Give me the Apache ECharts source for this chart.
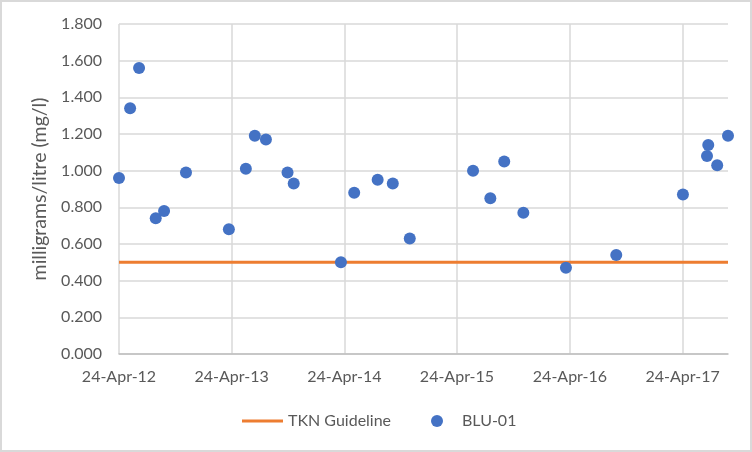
<!DOCTYPE html>
<html>
<head>
<meta charset="utf-8">
<script src="https://cdn.jsdelivr.net/npm/echarts@6.0.0/dist/echarts.min.js"></script>
<style>
    html, body { margin: 0; padding: 0; background: #fff; }
    #chart { width: 752px; height: 452px; }
</style>
</head>
<body>
<div id="chart"></div>
<script>
// sample dates and TKN results for BLU-01
var sampleDates = ['2012-04-24', '2012-05-30', '2012-06-28', '2012-08-21', '2012-09-17', '2012-11-27',
    '2013-04-15', '2013-06-09', '2013-07-08', '2013-08-13', '2013-10-22', '2013-11-11',
    '2014-04-13', '2014-05-26', '2014-08-10', '2014-09-28', '2014-11-22',
    '2015-06-15', '2015-08-10', '2015-09-24', '2015-11-25',
    '2016-04-11', '2016-09-21',
    '2017-04-25', '2017-07-12', '2017-07-16', '2017-08-14', '2017-09-18'];
var tknValues = [0.96, 1.34, 1.56, 0.74, 0.78, 0.99,
    0.68, 1.01, 1.19, 1.17, 0.99, 0.93,
    0.50, 0.88, 0.95, 0.93, 0.63,
    1.00, 0.85, 1.05, 0.77,
    0.47, 0.54,
    0.87, 1.08, 1.14, 1.03, 1.19];
var guidelineValue = 0.5;
var tickDates = ['2012-04-24', '2013-04-24', '2014-04-24', '2015-04-24', '2016-04-24', '2017-04-24'];
var months = ['Jan', 'Feb', 'Mar', 'Apr', 'May', 'Jun', 'Jul', 'Aug', 'Sep', 'Oct', 'Nov', 'Dec'];

var DAY = 86400000;
var start = Date.parse(sampleDates[0]);
function toDay(s) { return Math.round((Date.parse(s) - start) / DAY); }
function fmtDay(d) {
    var t = new Date(start + Math.round(d) * DAY);
    return t.getUTCDate() + '-' + months[t.getUTCMonth()] + '-' + String(t.getUTCFullYear()).slice(2);
}

var pts = sampleDates.map(function (s, i) { return [toDay(s), tknValues[i]]; });
var lastDay = toDay(sampleDates[sampleDates.length - 1]);
var tickDays = tickDates.map(toDay);

var font = 'Lato, "Open Sans", sans-serif';
var textColor = '#595959';

var chart = echarts.init(document.getElementById('chart'));
chart.setOption({
    animation: false,
    graphic: [{
        type: 'rect',
        shape: { x: 1, y: 1, width: 750, height: 450 },
        style: { fill: 'none', stroke: '#d9d9d9', lineWidth: 2 },
        silent: true
    }],
    grid: { left: 119, right: 24, top: 24, bottom: 98 },
    xAxis: {
        type: 'value',
        min: 0,
        max: lastDay,
        axisLine: { show: true, lineStyle: { color: '#bfbfbf', width: 1.5 } },
        axisTick: { show: false, customValues: tickDays },
        axisLabel: {
            customValues: tickDays,
            formatter: fmtDay,
            color: textColor, fontSize: 16, fontFamily: font, margin: 15
        },
        splitLine: { show: true, lineStyle: { color: '#d9d9d9', width: 1.5 } }
    },
    yAxis: {
        type: 'value',
        min: 0,
        max: 1.8,
        interval: 0.2,
        name: 'milligrams/litre (mg/l)',
        nameLocation: 'middle',
        nameGap: 67,
        nameTextStyle: { color: textColor, fontSize: 19.5, fontFamily: font },
        axisLine: { show: false },
        axisTick: { show: false },
        axisLabel: {
            formatter: function (v) { return v.toFixed(3); },
            color: textColor, fontSize: 16, fontFamily: font, margin: 17
        },
        splitLine: { lineStyle: { color: '#d9d9d9', width: 1.5 } }
    },
    legend: [{
        data: ['TKN Guideline'],
        left: 242, top: 413, padding: 0,
        icon: 'rect', itemWidth: 41, itemHeight: 3,
        textStyle: { color: textColor, fontSize: 16, fontFamily: font }
    }, {
        data: ['BLU-01'],
        left: 431, top: 413, padding: 0,
        icon: 'circle', itemWidth: 12, itemHeight: 12,
        textStyle: { color: textColor, fontSize: 16, fontFamily: font, padding: [0, 0, 0, 14] }
    }],
    series: [{
        name: 'TKN Guideline',
        type: 'line',
        data: [[0, guidelineValue], [lastDay, guidelineValue]],
        showSymbol: false,
        itemStyle: { color: '#ED7D31' },
        lineStyle: { color: '#ED7D31', width: 3 },
        z: 2
    }, {
        name: 'BLU-01',
        type: 'scatter',
        data: pts,
        symbolSize: 12,
        itemStyle: { color: '#4472C4', opacity: 1 },
        z: 3
    }]
});
</script>
</body>
</html>
